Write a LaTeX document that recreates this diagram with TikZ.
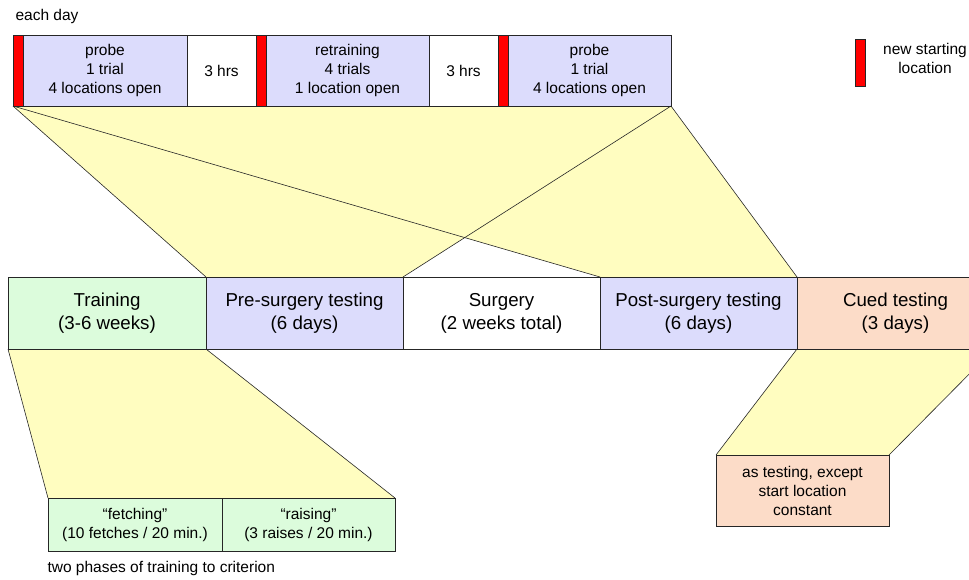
\documentclass[tikz,border=0pt]{standalone}
\usepackage{fontspec}
\setmainfont{Liberation Sans}
\usetikzlibrary{backgrounds}

\definecolor{testblue}{RGB}{220,220,252}
\definecolor{traingreen}{RGB}{220,252,220}
\definecolor{cuedorange}{RGB}{252,220,200}
\definecolor{fanyellow}{RGB}{255,253,192}
\definecolor{startred}{RGB}{255,0,0}

\tikzset{
  cell/.style={draw=black!85,line width=0.8pt,anchor=north west,inner sep=0pt,
    outer sep=0pt,align=center,font=\fontsize{15.5}{19}\selectfont},
  daycell/.style={cell,minimum height=71pt},
  startbar/.style={daycell,fill=startred,minimum width=10pt},
  phasecell/.style={cell,minimum height=72pt,minimum width=197pt,
    font=\fontsize{18.7}{23}\selectfont},
  fanfill/.style={fill=fanyellow},
  fanline/.style={draw=black!85,line width=0.6pt},
  plain/.style={align=center,font=\fontsize{15.5}{19}\selectfont}
}

\begin{document}
\begin{tikzpicture}[x=1pt,y=-1pt]
  \useasboundingbox (0,0) rectangle (969,579);

  % one day of testing
  \node[plain,anchor=west] (daylabel) at (12,16) {each day};
  \node[startbar] (s1) at (13,35) {};
  \node[daycell,fill=testblue,minimum width=164pt] (probeA) at (23,35) {probe\\1 trial\\4 locations open};
  \node[daycell,fill=white,minimum width=69pt] (waitA) at (187,35) {3 hrs};
  \node[startbar] (s2) at (256,35) {};
  \node[daycell,fill=testblue,minimum width=163pt] (retrain) at (266,35) {retraining\\4 trials\\1 location open};
  \node[daycell,fill=white,minimum width=69pt] (waitB) at (429,35) {3 hrs};
  \node[startbar] (s3) at (498,35) {};
  \node[daycell,fill=testblue,minimum width=163pt] (probeB) at (508,35) {probe\\1 trial\\4 locations open};

  % legend
  \node[startbar,minimum height=47pt] (legbar) at (855,39) {};
  \node[plain] (legtext) at (925,58) {new starting\\location};

  % phases
  \node[phasecell,fill=traingreen,minimum width=198pt] (train) at (8,277) {Training\\(3-6 weeks)};
  \node[phasecell,fill=testblue] (pre) at (206,277) {Pre-surgery testing\\(6 days)};
  \node[phasecell,fill=white] (surgery) at (403,277) {Surgery\\(2 weeks total)};
  \node[phasecell,fill=testblue] (post) at (600,277) {Post-surgery testing\\(6 days)};
  \node[phasecell,fill=cuedorange] (cued) at (797,277) {Cued testing\\(3 days)};

  % training phases
  \node[cell,fill=traingreen,minimum width=174pt,minimum height=53pt] (fetch) at (48,498) {``fetching''\\(10 fetches / 20 min.)};
  \node[cell,fill=traingreen,minimum width=173pt,minimum height=53pt] (raise) at (222,498) {``raising''\\(3 raises / 20 min.)};
  \node[plain,anchor=west] (trainlabel) at (44,568) {two phases of training to criterion};

  % cued detail
  \node[cell,fill=cuedorange,minimum width=173pt,minimum height=71pt] (cuedsub) at (716,455) {as testing, except\\start location\\constant};

  \begin{scope}[on background layer]
    \fill[fanfill] (s1.south west) -- (probeB.south east) -- (pre.north east) -- (pre.north west) -- cycle;
    \fill[fanfill] (s1.south west) -- (probeB.south east) -- (post.north east) -- (post.north west) -- cycle;
    \fill[fanfill] (train.south west) -- (train.south east) -- (raise.north east) -- (fetch.north west) -- cycle;
    \fill[fanfill] (cued.south west) -- (cued.south east) -- (cuedsub.north east) -- (cuedsub.north west) -- cycle;
  \end{scope}

  \draw[fanline] (s1.south west) -- (pre.north west);
  \draw[fanline] (probeB.south east) -- (pre.north east);
  \draw[fanline] (s1.south west) -- (post.north west);
  \draw[fanline] (probeB.south east) -- (post.north east);
  \draw[fanline] (train.south west) -- (fetch.north west);
  \draw[fanline] (train.south east) -- (raise.north east);
  \draw[fanline] (cued.south west) -- (cuedsub.north west);
  \draw[fanline] (cued.south east) -- (cuedsub.north east);
\end{tikzpicture}
\end{document}
